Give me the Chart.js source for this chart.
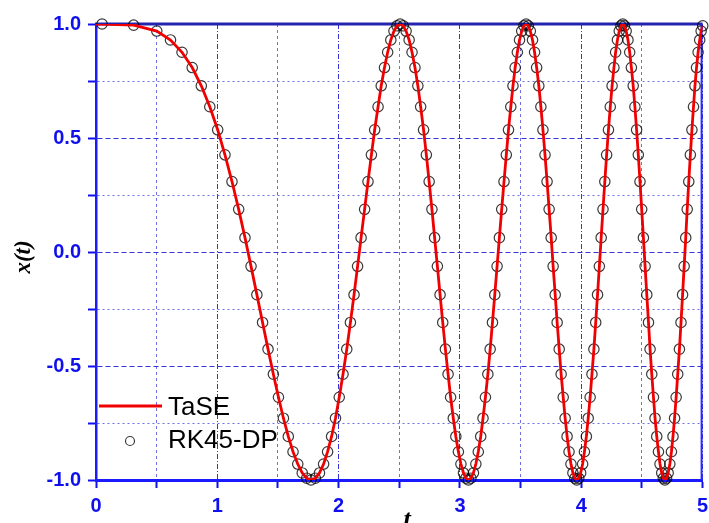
<!DOCTYPE html>
<html>
<head>
<meta charset="utf-8">
<script src="https://cdn.jsdelivr.net/npm/chart.js@4.4.1/dist/chart.umd.min.js"></script>
<style>
  html, body { margin: 0; padding: 0; background: #ffffff; }
  #wrap { width: 709px; height: 523px; position: relative; }
</style>
</head>
<body>
<div id="wrap"><canvas id="c" width="709" height="523"></canvas></div>
<script>
// time grid of the RK45-DP output
const tValues = [
  0.050, 0.310,
  0.501, 0.614, 0.709, 0.793, 0.868, 0.938, 1.003, 1.063, 1.121,
  1.176, 1.228, 1.278, 1.326, 1.373, 1.418, 1.462, 1.504, 1.545, 1.585,
  1.624, 1.663, 1.700, 1.737, 1.772, 1.808, 1.842, 1.876, 1.909, 1.942,
  1.974, 2.005, 2.036, 2.067, 2.097, 2.127, 2.156, 2.185, 2.214, 2.242,
  2.270, 2.297, 2.325, 2.351, 2.378, 2.404, 2.430, 2.456, 2.481, 2.507,
  2.532, 2.556, 2.581, 2.605, 2.629, 2.653, 2.676, 2.700, 2.723, 2.746,
  2.769, 2.791, 2.814, 2.836, 2.858, 2.880, 2.902, 2.923, 2.945, 2.966,
  2.987, 3.008, 3.029, 3.049, 3.070, 3.090, 3.111, 3.131, 3.151, 3.171,
  3.190, 3.210, 3.230, 3.249, 3.268, 3.287, 3.306, 3.325, 3.344, 3.363,
  3.382, 3.400, 3.419, 3.437, 3.455, 3.473, 3.491, 3.509, 3.527, 3.545,
  3.563, 3.580, 3.598, 3.615, 3.632, 3.650, 3.667, 3.684, 3.701, 3.718,
  3.735, 3.752, 3.768, 3.785, 3.801, 3.818, 3.834, 3.851, 3.867, 3.883,
  3.899, 3.915, 3.931, 3.947, 3.963, 3.979, 3.995, 4.011, 4.026, 4.042,
  4.057, 4.073, 4.088, 4.104, 4.119, 4.134, 4.149, 4.164, 4.179, 4.194,
  4.209, 4.224, 4.239, 4.254, 4.269, 4.283, 4.298, 4.313, 4.327, 4.342,
  4.356, 4.370, 4.385, 4.399, 4.413, 4.428, 4.442, 4.456, 4.470, 4.484,
  4.498, 4.512, 4.526, 4.540, 4.554, 4.567, 4.581, 4.595, 4.608, 4.622,
  4.636, 4.649, 4.663, 4.676, 4.689, 4.703, 4.716, 4.730, 4.743, 4.756,
  4.769, 4.782, 4.795, 4.809, 4.822, 4.835, 4.848, 4.861, 4.873, 4.886,
  4.899, 4.912, 4.925, 4.937, 4.950, 4.963, 4.976, 4.988, 5.001, 5.013
];

// x(t) values at those times
const xValues = [
  1.000, 0.995,
  0.969, 0.930, 0.876, 0.809, 0.729, 0.637, 0.536, 0.426, 0.309, 0.187, 0.063,
  -0.063, -0.187, -0.309, -0.426, -0.536, -0.637, -0.729, -0.809, -0.876, -0.930, -0.969, -0.992, -1.000,
  -0.992, -0.969, -0.930, -0.876, -0.809, -0.729, -0.637, -0.536, -0.426, -0.309, -0.187, -0.063,
  0.063, 0.187, 0.309, 0.426, 0.536, 0.637, 0.729, 0.809, 0.876, 0.930, 0.969, 0.992,
  1.000,
  0.992, 0.969, 0.930, 0.876, 0.809, 0.729, 0.637, 0.536, 0.426, 0.309, 0.187, 0.063,
  -0.063, -0.187, -0.309, -0.426, -0.536, -0.637, -0.729, -0.809, -0.876, -0.930, -0.969, -0.992, -1.000,
  -0.992, -0.969, -0.930, -0.876, -0.809, -0.729, -0.637, -0.536, -0.426, -0.309, -0.187, -0.063,
  0.063, 0.187, 0.309, 0.426, 0.536, 0.637, 0.729, 0.809, 0.876, 0.930, 0.969, 0.992,
  1.000,
  0.992, 0.969, 0.930, 0.876, 0.809, 0.729, 0.637, 0.536, 0.426, 0.309, 0.187, 0.063,
  -0.063, -0.187, -0.309, -0.426, -0.536, -0.637, -0.729, -0.809, -0.876, -0.930, -0.969, -0.992, -1.000,
  -0.992, -0.969, -0.930, -0.876, -0.809, -0.729, -0.637, -0.536, -0.426, -0.309, -0.187, -0.063,
  0.063, 0.187, 0.309, 0.426, 0.536, 0.637, 0.729, 0.809, 0.876, 0.930, 0.969, 0.992,
  1.000,
  0.992, 0.969, 0.930, 0.876, 0.809, 0.729, 0.637, 0.536, 0.426, 0.309, 0.187, 0.063,
  -0.063, -0.187, -0.309, -0.426, -0.536, -0.637, -0.729, -0.809, -0.876, -0.930, -0.969, -0.992, -1.000,
  -0.992, -0.969, -0.930, -0.876, -0.809, -0.729, -0.637, -0.536, -0.426, -0.309, -0.187, -0.063,
  0.063, 0.187, 0.309, 0.426, 0.536, 0.637, 0.729, 0.809, 0.876, 0.930, 0.969, 0.992,
  1.000
];

// TaSE line starts at t = 0, x = 1
const lineStartT = [0.0];
const lineStartX = [1.0];

const seriesNames = ['TaSE', 'RK45-DP'];
const xTickLabels = ['0', '1', '2', '3', '4', '5'];
const yTickLabels = ['-1.0', '-0.5', '0.0', '0.5', '1.0'];
const xAxisTitle = 't';
const yAxisTitle = 'x(t)';

const markerPts = tValues.map((t, i) => ({ x: t, y: xValues[i] }));
const linePts = lineStartT.map((t, i) => ({ x: t, y: lineStartX[i] })).concat(markerPts);

const isMajorX = v => Math.abs(v - Math.round(v)) < 1e-6;
const isMajorY = v => Math.abs(v * 2 - Math.round(v * 2)) < 1e-6;

const decorPlugin = {
  id: 'decor',
  beforeDatasetsDraw(chart) {
    const { ctx, chartArea: a } = chart;
    ctx.save();
    ctx.lineCap = 'butt';
    ctx.strokeStyle = '#2424b0';
    ctx.lineWidth = 3;
    ctx.beginPath(); ctx.moveTo(a.left - 1, a.top); ctx.lineTo(a.right, a.top); ctx.stroke();
    ctx.strokeStyle = '#2a2aff';
    ctx.lineWidth = 2;
    ctx.beginPath(); ctx.moveTo(a.right - 1, a.top); ctx.lineTo(a.right - 1, a.bottom); ctx.stroke();
    ctx.restore();
  },
  afterDraw(chart) {
    const { ctx } = chart;
    ctx.save();
    ctx.fillStyle = '#000000';
    ctx.font = 'italic bold 23px "Liberation Serif", "DejaVu Serif", serif';
    ctx.textAlign = 'center';
    ctx.textBaseline = 'middle';
    ctx.translate(24, 257);
    ctx.rotate(-Math.PI / 2);
    ctx.fillText(yAxisTitle, 0, 0);
    ctx.restore();

    ctx.save();
    ctx.fillStyle = '#000000';
    ctx.font = 'italic bold 26px "Liberation Serif", "DejaVu Serif", serif';
    ctx.textAlign = 'center';
    ctx.textBaseline = 'alphabetic';
    ctx.fillText(xAxisTitle, 407, 527);
    ctx.restore();

    const ds0 = chart.data.datasets[0];
    const ds1 = chart.data.datasets[1];
    ctx.save();
    ctx.strokeStyle = ds0.borderColor;
    ctx.lineWidth = 3;
    ctx.beginPath(); ctx.moveTo(99, 406); ctx.lineTo(162, 406); ctx.stroke();
    ctx.strokeStyle = ds1.pointBorderColor;
    ctx.lineWidth = 1.2;
    ctx.beginPath(); ctx.arc(130, 441, 4.5, 0, Math.PI * 2); ctx.stroke();
    ctx.fillStyle = '#000000';
    ctx.font = '26px "Liberation Sans", Arial, sans-serif';
    ctx.textAlign = 'left';
    ctx.textBaseline = 'middle';
    ctx.fillText(ds0.label, 168, 408);
    ctx.fillText(ds1.label, 168, 441);
    ctx.restore();
  }
};

const labelFont = { family: '"Liberation Sans", Arial, sans-serif', size: 20, weight: 'bold' };
const blue = '#1010ee';

new Chart(document.getElementById('c'), {
  type: 'scatter',
  data: {
    datasets: [
      {
        label: seriesNames[0],
        data: linePts,
        showLine: true,
        borderColor: '#f00000',
        borderWidth: 2.8,
        pointRadius: 0,
        tension: 0,
        fill: false
      },
      {
        label: seriesNames[1],
        data: markerPts,
        showLine: false,
        pointRadius: 5.2,
        pointStyle: 'circle',
        pointBorderColor: 'rgba(0,0,0,0.78)',
        pointBackgroundColor: 'rgba(0,0,0,0)',
        pointBorderWidth: 1.2,
        clip: false
      }
    ]
  },
  options: {
    responsive: false,
    animation: false,
    events: [],
    layout: { padding: { top: 24, right: 1, left: 0, bottom: 0 } },
    plugins: { legend: { display: false }, tooltip: { enabled: false } },
    scales: {
      x: {
        type: 'linear',
        min: 0, max: 5,
        afterFit(s) { s.height = 43; s.paddingLeft = 0; s.paddingRight = 0; },
        ticks: {
          stepSize: 0.5,
          autoSkip: false,
          maxRotation: 0,
          padding: 6,
          color: blue,
          font: labelFont,
          callback(v) {
            if (!isMajorX(v)) return '';
            return xTickLabels[Math.round(v)];
          }
        },
        grid: {
          drawTicks: true,
          tickLength: 8,
          tickWidth: 2,
          tickColor: blue,
          lineWidth: 1,
          color: ctx => isMajorX(ctx.tick ? ctx.tick.value : 0) ? '#3434d6' : '#7070e6'
        },
        border: {
          display: true,
          color: '#1a1aff',
          width: 3,
          dash: ctx => isMajorX(ctx.tick ? ctx.tick.value : 0) ? [5, 2, 1, 2] : [3, 3]
        }
      },
      y: {
        type: 'linear',
        min: -1, max: 1,
        afterFit(s) { s.width = 96; s.paddingTop = 0; s.paddingBottom = 0; },
        ticks: {
          stepSize: 0.25,
          autoSkip: false,
          padding: 7,
          color: blue,
          font: labelFont,
          callback(v) {
            if (!isMajorY(v)) return '';
            return yTickLabels[Math.round((v + 1) * 2)];
          }
        },
        grid: {
          drawTicks: true,
          tickLength: 8,
          tickWidth: 2,
          tickColor: blue,
          lineWidth: 1,
          color: ctx => isMajorY(ctx.tick ? ctx.tick.value : 0) ? '#3434d6' : '#7070e6'
        },
        border: {
          display: true,
          color: '#1a1aff',
          width: 2.5,
          dash: ctx => isMajorY(ctx.tick ? ctx.tick.value : 0) ? [5, 3] : [2, 3]
        }
      }
    }
  },
  plugins: [decorPlugin]
});
</script>
</body>
</html>
